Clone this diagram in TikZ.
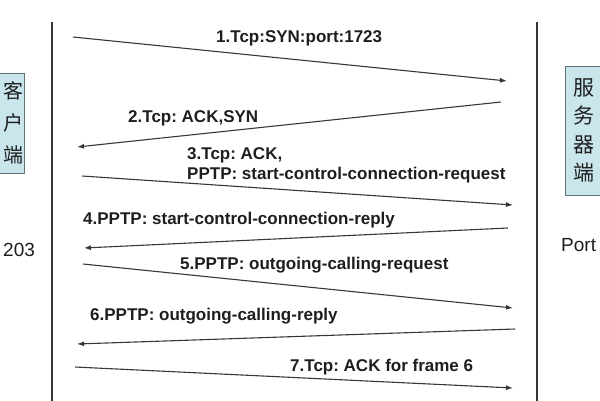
\documentclass[tikz,border=0pt]{standalone}
\usepackage{fontspec}
\setmainfont{Liberation Sans}
\newfontfamily\cjkfont{Noto Sans CJK SC}
\usetikzlibrary{arrows.meta}
\frenchspacing
\definecolor{FlowGray}{RGB}{55,55,55}
\definecolor{HostBlue}{RGB}{200,230,236}
\definecolor{HostEdge}{RGB}{95,115,120}
\definecolor{MsgInk}{RGB}{30,30,30}

\begin{document}
\begin{tikzpicture}[x=1pt, y=-1pt,
  msg/.style={font=\bfseries\fontsize{17}{20}\selectfont, text=MsgInk, inner sep=0pt, anchor=west},
  flow/.style={draw=FlowGray, line width=1.1pt, -{Latex[length=7pt,width=5pt]}},
  life/.style={draw=FlowGray, line width=2pt},
  hostbox/.style={draw=HostEdge, fill=HostBlue, line width=1pt},
  hostname/.style={align=center, inner sep=0pt, text=MsgInk},
  tag/.style={font=\fontsize{19}{22}\selectfont, text=MsgInk, inner sep=0pt, anchor=west}]

\useasboundingbox (0,0) rectangle (600,400);
\clip (0,0) rectangle (600,400);

% Life lines
\coordinate (ctop) at (52,22);
\coordinate (cbot) at (52,402);
\coordinate (stop) at (537,22);
\coordinate (sbot) at (537,402);
\draw[life] (ctop) -- (cbot);
\draw[life] (stop) -- (sbot);

% Hosts
\draw[hostbox] (-10,73) rectangle (24,173);
\node[hostname, font=\cjkfont\fontsize{20}{32}\selectfont] (client) at (13,123) {客\\户\\端};
\draw[hostbox] (565,66) rectangle (608,195);
\node[hostname, font=\cjkfont\fontsize{21}{28.5}\selectfont] (server) at (584,130.5) {服\\务\\器\\端};
\node[tag] (caddr) at (3,250) {203};
\node[tag] (sport) at (561,245) {Port};

% Message end points
\coordinate (m1a) at (73,37);   \coordinate (m1b) at (507,81);
\coordinate (m2a) at (501,102); \coordinate (m2b) at (77,147);
\coordinate (m3a) at (82,176);  \coordinate (m3b) at (513,205);
\coordinate (m4a) at (508,228); \coordinate (m4b) at (84,248);
\coordinate (m5a) at (83,264);  \coordinate (m5b) at (513,308);
\coordinate (m6a) at (515,329); \coordinate (m6b) at (77,344);
\coordinate (m7a) at (75,367);  \coordinate (m7b) at (513,388);

% Messages
\foreach \i in {1,...,7} {
  \draw[flow] (m\i a) -- (m\i b);
}

% Message labels
\node[msg] (l1) at (216,38) {1.Tcp:SYN:port:1723};
\node[msg] (l2) at (128,118) {2.Tcp: ACK,SYN};
\node[msg, align=left] (l3) at (187,165) {3.Tcp: ACK,\\PPTP: start-control-connection-request};
\node[msg] (l4) at (83,220) {4.PPTP: start-control-connection-reply};
\node[msg] (l5) at (180,265) {5.PPTP: outgoing-calling-request};
\node[msg] (l6) at (90,316) {6.PPTP: outgoing-calling-reply};
\node[msg] (l7) at (290,367) {7.Tcp: ACK for frame 6};

\end{tikzpicture}
\end{document}
